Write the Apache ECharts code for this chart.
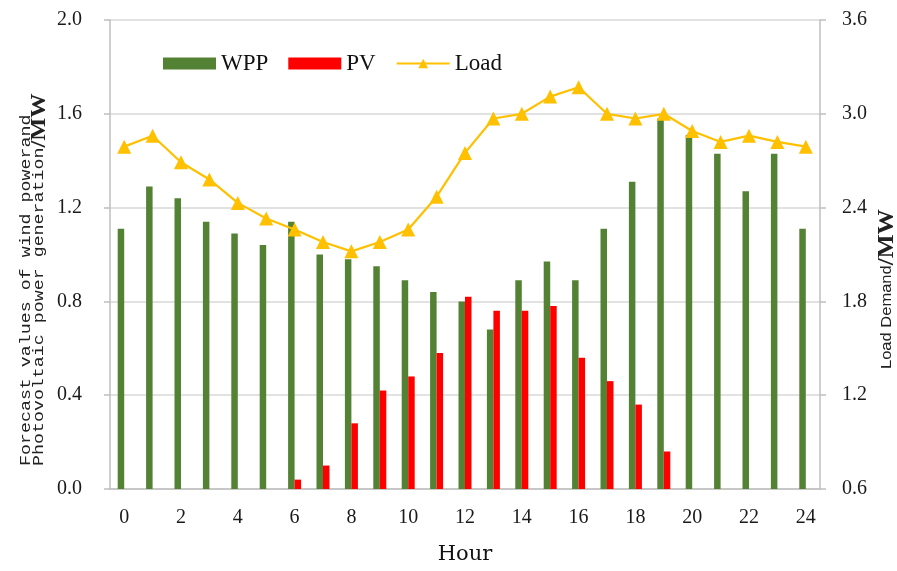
<!DOCTYPE html>
<html>
<head>
<meta charset="utf-8">
<script src="https://cdn.jsdelivr.net/npm/echarts@6/dist/echarts.min.js"></script>
<style>
html,body{margin:0;padding:0;background:#fff;}
#chart{width:897px;height:571px;}
</style>
</head>
<body>
<div id="chart"></div>
<script>
var hours = ['0','1','2','3','4','5','6','7','8','9','10','11','12','13','14','15','16','17','18','19','20','21','22','23','24'];
var wpp = [1.11,1.29,1.24,1.14,1.09,1.04,1.14,1.00,0.98,0.95,0.89,0.84,0.80,0.68,0.89,0.97,0.89,1.11,1.31,1.58,1.51,1.43,1.27,1.43,1.11];
var pv = [0,0,0,0,0,0,0.04,0.10,0.28,0.42,0.48,0.58,0.82,0.76,0.76,0.78,0.56,0.46,0.36,0.16,0,0,0,0,0];
var load = [2.79,2.86,2.69,2.58,2.43,2.33,2.26,2.18,2.12,2.18,2.26,2.47,2.75,2.97,3.00,3.11,3.17,3.00,2.97,3.00,2.89,2.82,2.86,2.82,2.79];
var seriesNames = ['WPP','PV','Load'];

var chart = echarts.init(document.getElementById('chart'), null, {renderer:'canvas'});
var tickFont = {fontFamily:'Liberation Serif', fontSize:20, color:'#1a1a1a'};
chart.setOption({
  animation:false,
  backgroundColor:'#fff',
  grid:{left:110, right:77, top:20, bottom:82},
  legend:{
    left:158, top:47,
    itemWidth:53, itemHeight:12, itemGap:20,
    textStyle:{fontFamily:'Liberation Serif', fontSize:23, color:'#111'},
    data:[
      {name:seriesNames[0], icon:'rect'},
      {name:seriesNames[1], icon:'rect'},
      {name:seriesNames[2]}
    ]
  },
  xAxis:{
    type:'category', data:hours, boundaryGap:true,
    axisLine:{lineStyle:{color:'#BFBFBF', width:1.5}},
    axisTick:{show:false},
    axisLabel:Object.assign({interval:1, margin:19}, tickFont),
    name:'Hour', nameLocation:'middle', nameGap:55,
    nameTextStyle:{fontFamily:'DejaVu Serif', fontSize:21, color:'#111'}
  },
  yAxis:[
    {
      type:'value', min:0, max:2, interval:0.4, position:'left',
      axisLine:{show:true, lineStyle:{color:'#BFBFBF', width:1.5}},
      axisTick:{show:true, inside:false, length:6, lineStyle:{color:'#BFBFBF', width:1.5}},
      splitLine:{lineStyle:{color:'#D9D9D9', width:1.5}},
      axisLabel:Object.assign({margin:28, formatter:function(v){return v.toFixed(1);}}, tickFont)
    },
    {
      type:'value', min:0.6, max:3.6, interval:0.6, position:'right',
      axisLine:{show:true, lineStyle:{color:'#BFBFBF', width:1.5}},
      axisTick:{show:true, inside:false, length:6, lineStyle:{color:'#BFBFBF', width:1.5}},
      splitLine:{show:false},
      axisLabel:Object.assign({margin:22, formatter:function(v){return v.toFixed(1);}}, tickFont)
    }
  ],
  graphic:[
    {
      type:'text', x:33, y:466, rotation:Math.PI/2, scaleX:1.22,
      style:{
        text:'{a|Forecast values of wind powerand}\n{a|Photovoltaic power generation}{b|/MW}',
        align:'left', verticalAlign:'middle',
        rich:{
          a:{fontFamily:'Liberation Mono', fontSize:15, lineHeight:13, fill:'#222', align:'left'},
          b:{fontFamily:'Liberation Serif', fontWeight:'bold', fontSize:20, lineHeight:13, fill:'#222', align:'left'}
        }
      }
    },
    {
      type:'text', x:887, y:369, rotation:Math.PI/2, scaleX:1.1,
      style:{
        text:'{a|Load Demand}{b|/MW}',
        align:'left', verticalAlign:'middle',
        rich:{
          a:{fontFamily:'Liberation Sans', fontSize:15, fill:'#222'},
          b:{fontFamily:'Liberation Serif', fontWeight:'bold', fontSize:23, fill:'#222'}
        }
      }
    }
  ],
  series:[
    {
      name:seriesNames[0], type:'bar', yAxisIndex:0, data:wpp,
      barWidth:6.5, barGap:'0%',
      itemStyle:{color:'#548235'}
    },
    {
      name:seriesNames[1], type:'bar', yAxisIndex:0, data:pv,
      barWidth:6.5, barGap:'0%',
      itemStyle:{color:'#FF0000'}
    },
    {
      name:seriesNames[2], type:'line', yAxisIndex:1, data:load,
      symbol:'triangle', symbolSize:14,
      lineStyle:{color:'#FFC000', width:2.2},
      itemStyle:{color:'#FFC000'}
    }
  ]
});
</script>
</body>
</html>
